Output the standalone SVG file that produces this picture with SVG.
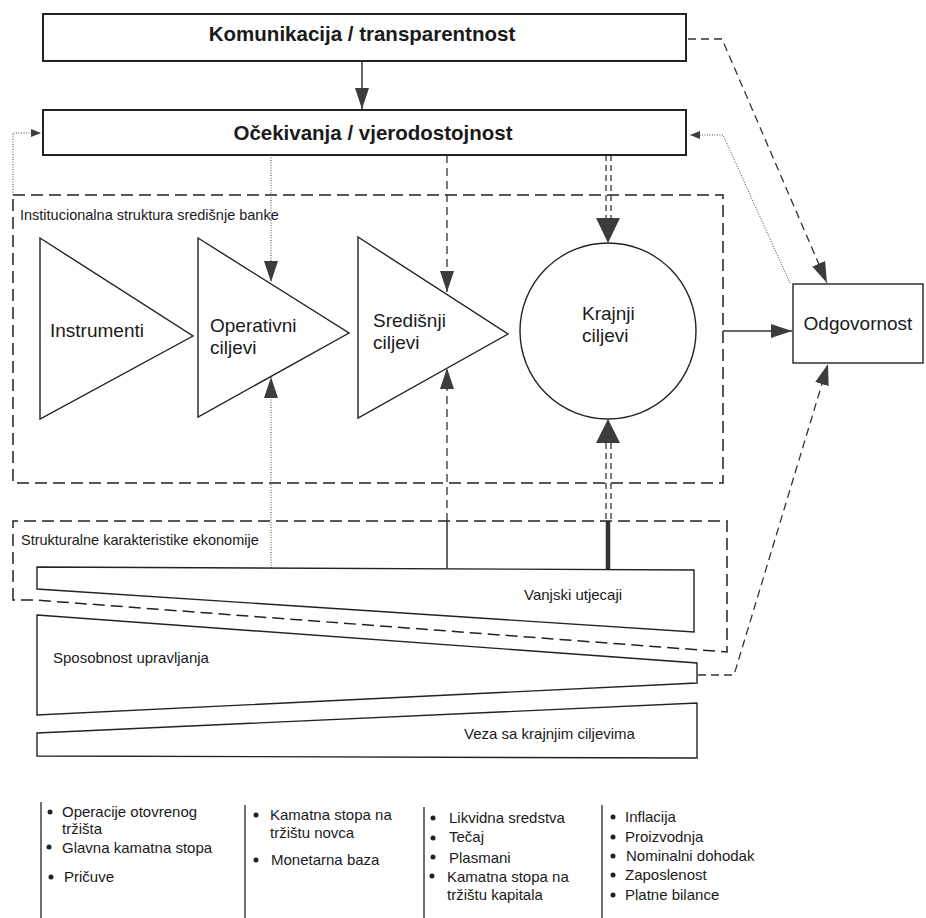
<svg xmlns="http://www.w3.org/2000/svg" width="926" height="918" viewBox="0 0 926 918">
<style>
text{font-family:"Liberation Sans",Arial,sans-serif;fill:#1a1a1a}
.title{font-size:20.5px;font-weight:bold;text-anchor:middle}
.lbl{font-size:19px}
.sm{font-size:14.5px}
.li{font-size:15px}
.box{fill:#fff;stroke:#222;stroke-width:2}
.shape{fill:#fff;stroke:#222;stroke-width:1.4}
.dbox{fill:none;stroke:#222;stroke-width:1.5;stroke-dasharray:12 6}
.solid{fill:none;stroke:#333;stroke-width:1.5}
.dash{fill:none;stroke:#333;stroke-width:1.3;stroke-dasharray:8 5}
.dot{fill:none;stroke:#444;stroke-width:1;stroke-dasharray:1 1.5}
.dd{fill:none;stroke:#333;stroke-width:1.3;stroke-dasharray:6 4}
.head{fill:#3c3c3c;stroke:none}
.sep{stroke:#222;stroke-width:1.3}
.bul{fill:#222}
</style>
<defs>
<marker id="am" viewBox="0 0 10 10" refX="10" refY="5" markerWidth="21" markerHeight="14" markerUnits="userSpaceOnUse" orient="auto" preserveAspectRatio="none"><path d="M0,0 L10,5 L0,10 z" class="head"/></marker>
<marker id="as" viewBox="0 0 10 10" refX="10" refY="5" markerWidth="10" markerHeight="8" markerUnits="userSpaceOnUse" orient="auto" preserveAspectRatio="none"><path d="M0,0 L10,5 L0,10 z" class="head"/></marker>
</defs>

<g id="institucionalna">
<rect x="13" y="195" width="710" height="288" class="dbox"/>
<text x="20" y="220" class="sm">Institucionalna struktura središnje banke</text>
</g>
<g id="strukturalne">
<path d="M13,600 V521 H727 V652 L35,600 Z" class="dbox"/>
<text x="21" y="545" class="sm">Strukturalne karakteristike ekonomije</text>
</g>

<g id="connectors">
<path d="M362,62 V109" class="solid" marker-end="url(#am)"/>
<path d="M13,195 V133 H41" class="dot" marker-end="url(#as)"/>
<path d="M790,283 L723,135 H690" class="dot" marker-end="url(#as)"/>
<path d="M688,39 H722 L827,283" class="dash" marker-end="url(#am)"/>
<path d="M698,675 H734 L828,364" class="dash" marker-end="url(#am)"/>
<path d="M271,155 V282" class="dot" marker-end="url(#am)"/>
<path d="M271,568 V377" class="dot" marker-end="url(#am)"/>
<path d="M447,155 V292" class="dash" marker-end="url(#am)"/>
<path d="M447,568 V521" class="solid"/>
<path d="M447,521 V368" class="dash" marker-end="url(#am)"/>
<path d="M606,155 V219 M611,155 V219" class="dd"/>
<polygon points="596,218 620,218 608,243" class="head"/>
<path d="M606,443 V521 M611,443 V521" class="dd"/>
<polygon points="596,443 620,443 608,419" class="head"/>
<path d="M608,521 V570" fill="none" stroke="#333" stroke-width="4.5"/>
<path d="M723,331 H792" class="solid" marker-end="url(#am)"/>
</g>

<g id="komunikacija">
<rect x="43" y="14" width="643" height="47" class="box"/>
<text x="362" y="41" class="title">Komunikacija / transparentnost</text>
</g>
<g id="ocekivanja">
<rect x="43" y="110" width="643" height="45" class="box"/>
<text x="373" y="140" class="title">Očekivanja / vjerodostojnost</text>
</g>

<g id="instrumenti">
<polygon points="40,238 193,336 40,419" class="shape"/>
<text x="50" y="337" class="lbl">Instrumenti</text>
</g>
<g id="operativni">
<polygon points="198,238 349,333 198,417" class="shape"/>
<text x="210" y="332" class="lbl">Operativni</text>
<text x="210" y="354" class="lbl">ciljevi</text>
</g>
<g id="sredisnji">
<polygon points="358,237 508,334 358,418" class="shape"/>
<text x="373" y="327" class="lbl">Središnji</text>
<text x="373" y="349" class="lbl">ciljevi</text>
</g>
<g id="krajnji">
<circle cx="608" cy="331" r="88" class="shape"/>
<text x="582" y="320" class="lbl">Krajnji</text>
<text x="582" y="342" class="lbl">ciljevi</text>
</g>
<g id="odgovornost">
<rect x="793" y="284" width="130" height="79" class="shape"/>
<text x="858" y="330" class="lbl" text-anchor="middle">Odgovornost</text>
</g>

<g id="vanjski">
<polygon points="37,567 694,570 694,632 37,589" class="shape"/>
<text x="524" y="600" class="li">Vanjski utjecaji</text>
</g>
<g id="sposobnost">
<polygon points="37,615 697,663 697,683 37,715" class="shape"/>
<text x="53" y="663" class="li">Sposobnost upravljanja</text>
</g>
<g id="veza">
<polygon points="37,733 697,703 697,758 37,756" class="shape"/>
<text x="464" y="739" class="li">Veza sa krajnjim ciljevima</text>
</g>

<g id="lista-instrumenti">
<line x1="41" y1="802" x2="41" y2="918" class="sep"/>
<circle cx="50" cy="812" r="2.5" class="bul"/>
<circle cx="49" cy="847" r="2.5" class="bul"/>
<circle cx="51" cy="877" r="2.5" class="bul"/>
<text x="62" y="817" class="li">Operacije otovrenog</text>
<text x="62" y="834" class="li">tržišta</text>
<text x="62" y="853" class="li">Glavna kamatna stopa</text>
<text x="64" y="882" class="li">Pričuve</text>
</g>
<g id="lista-operativni">
<line x1="245" y1="805" x2="245" y2="918" class="sep"/>
<circle cx="256" cy="815" r="2.5" class="bul"/>
<circle cx="256" cy="860" r="2.5" class="bul"/>
<text x="270" y="820" class="li">Kamatna stopa na</text>
<text x="270" y="838" class="li">tržištu novca</text>
<text x="271" y="865" class="li">Monetarna baza</text>
</g>
<g id="lista-sredisnji">
<line x1="424" y1="807" x2="424" y2="918" class="sep"/>
<circle cx="433" cy="818" r="2.5" class="bul"/>
<circle cx="433" cy="838" r="2.5" class="bul"/>
<circle cx="433" cy="857" r="2.5" class="bul"/>
<circle cx="432" cy="876" r="2.5" class="bul"/>
<text x="449" y="823" class="li">Likvidna sredstva</text>
<text x="449" y="842" class="li">Tečaj</text>
<text x="449" y="863" class="li">Plasmani</text>
<text x="447" y="882" class="li">Kamatna stopa na</text>
<text x="447" y="900" class="li">tržištu kapitala</text>
</g>
<g id="lista-krajnji">
<line x1="602" y1="805" x2="602" y2="918" class="sep"/>
<circle cx="613" cy="817" r="2.5" class="bul"/>
<circle cx="613" cy="837" r="2.5" class="bul"/>
<circle cx="613" cy="856" r="2.5" class="bul"/>
<circle cx="613" cy="875" r="2.5" class="bul"/>
<circle cx="613" cy="895" r="2.5" class="bul"/>
<text x="625" y="822" class="li">Inflacija</text>
<text x="625" y="842" class="li">Proizvodnja</text>
<text x="626" y="861" class="li">Nominalni dohodak</text>
<text x="625" y="880" class="li">Zaposlenost</text>
<text x="625" y="900" class="li">Platne bilance</text>
</g>
</svg>
